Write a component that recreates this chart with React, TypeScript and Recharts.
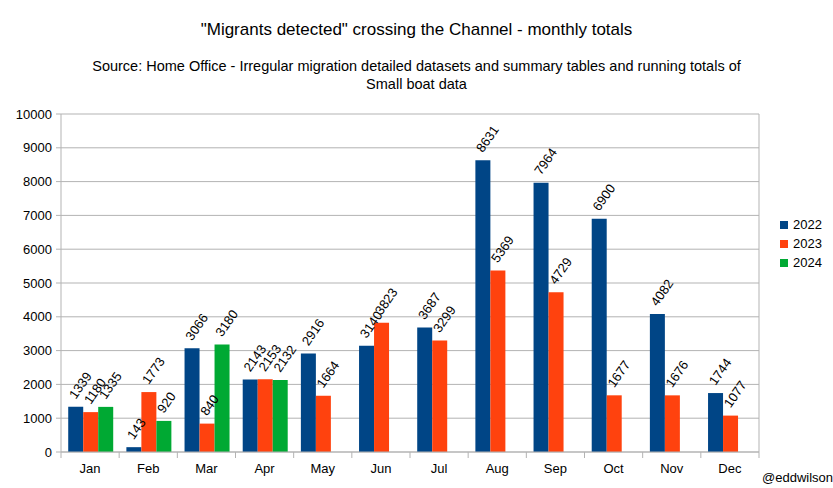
import React from 'react';
import { BarChart, Bar, XAxis, YAxis, CartesianGrid, LabelList } from 'recharts';

const months = ['Jan', 'Feb', 'Mar', 'Apr', 'May', 'Jun', 'Jul', 'Aug', 'Sep', 'Oct', 'Nov', 'Dec'];
const y2022 = [1339, 143, 3066, 2143, 2916, 3140, 3687, 8631, 7964, 6900, 4082, 1744];
const y2023 = [1180, 1773, 840, 2153, 1664, 3823, 3299, 5369, 4729, 1677, 1676, 1077];
const y2024 = [1335, 920, 3180, 2132, null, null, null, null, null, null, null, null];
const yTicks = [0, 1000, 2000, 3000, 4000, 5000, 6000, 7000, 8000, 9000, 10000];

const series = [
  { key: 'y2022', name: '2022', color: '#004586' },
  { key: 'y2023', name: '2023', color: '#ff420e' },
  { key: 'y2024', name: '2024', color: '#00a933' },
];

const data = months.map((m, i) => ({ month: m, y2022: y2022[i], y2023: y2023[i], y2024: y2024[i] }));

const W = 833;
const H = 488;
const margin = { top: 114, right: 73, bottom: 0, left: 0 };
const Y_WIDTH = 61;
const band = (W - margin.left - margin.right - Y_WIDTH - 1) / months.length;
const GRID = '#b3b3b3';
const FONT = '"Liberation Sans", Arial, sans-serif';

// month label plus the little tick marks that sit on the category boundaries
const MonthTick = (props: any) => {
  const { x, y, payload, index } = props;
  const half = band / 2;
  return (
    <g>
      <line x1={x - half} x2={x - half} y1={y - 12} y2={y - 6} stroke={GRID} />
      {index === months.length - 1 && (
        <line x1={x + half} x2={x + half} y1={y - 12} y2={y - 6} stroke={GRID} />
      )}
      <text x={x} y={y} dy="0.71em" textAnchor="middle" fontSize={13} fill="#000">
        {payload.value}
      </text>
    </g>
  );
};

const RotatedLabel = (props: any) => {
  const { x, y, width, value } = props;
  if (value == null) return null;
  const cx = x + width / 2;
  const ty = y - 7;
  return (
    <text x={cx} y={ty} transform={`rotate(-55 ${cx} ${ty})`} textAnchor="start" fontSize={13} fill="#000">
      {value}
    </text>
  );
};

export default function App() {
  return (
    <div style={{ position: 'relative', width: W, height: H, fontFamily: FONT, background: '#fff' }}>
      <style>{'body{margin:0}'}</style>
      <div style={{ position: 'absolute', top: 19, left: 0, width: W, textAlign: 'center', fontSize: 17, lineHeight: '21px' }}>
        "Migrants detected" crossing the Channel - monthly totals
      </div>
      <div style={{ position: 'absolute', top: 57, left: 0, width: W, textAlign: 'center', fontSize: 14.5, lineHeight: '18px' }}>
        Source: Home Office - Irregular migration detailed datasets and summary tables and running totals of
        <br />
        Small boat data
      </div>
      <BarChart
        width={W}
        height={H}
        data={data}
        margin={margin}
        barCategoryGap="12.4%"
        barGap={0}
        style={{ fontFamily: FONT }}
      >
        <CartesianGrid vertical={false} stroke={GRID} />
        <XAxis
          dataKey="month"
          height={36}
          axisLine={{ stroke: GRID }}
          tickLine={false}
          tickSize={6}
          tickMargin={6}
          interval={0}
          tick={<MonthTick />}
        />
        <YAxis
          width={Y_WIDTH}
          domain={[0, 10000]}
          ticks={yTicks}
          interval={0}
          axisLine={{ stroke: GRID }}
          tickLine={{ stroke: GRID }}
          tickSize={5}
          tickMargin={4}
          tick={{ fill: '#000', fontSize: 13 }}
        />
        <YAxis yAxisId="right" orientation="right" width={1} tick={false} tickLine={false} axisLine={{ stroke: GRID }} />
        {series.map((s) => (
          <Bar key={s.key} dataKey={s.key} name={s.name} fill={s.color} isAnimationActive={false}>
            <LabelList dataKey={s.key} content={<RotatedLabel />} />
          </Bar>
        ))}
      </BarChart>
      <div style={{ position: 'absolute', left: 780, top: 215, fontSize: 13 }}>
        {series.map((s) => (
          <div key={s.key} style={{ display: 'flex', alignItems: 'center', height: 19 }}>
            <span style={{ display: 'inline-block', width: 8, height: 8, background: s.color, marginRight: 5 }} />
            <span>{s.name}</span>
          </div>
        ))}
      </div>
      <div style={{ position: 'absolute', left: 762, top: 470, fontSize: 13 }}>@eddwilson</div>
    </div>
  );
}
